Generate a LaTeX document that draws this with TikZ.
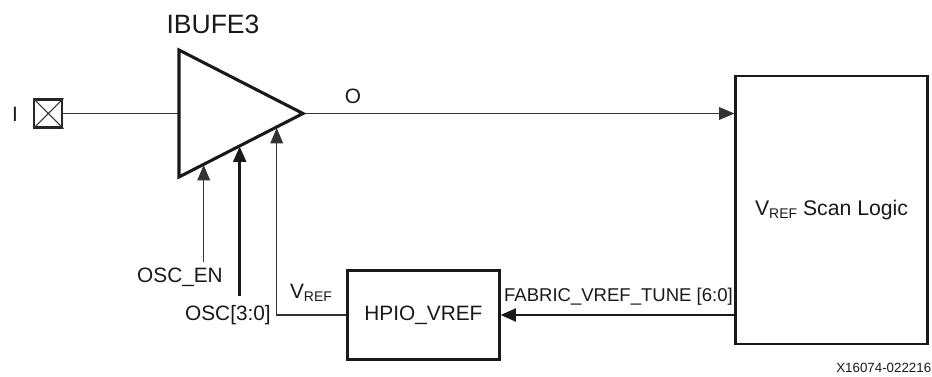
\documentclass[tikz,border=0pt]{standalone}
\usepackage{fontspec}
\setmainfont{Liberation Sans}
\usetikzlibrary{arrows.meta}
\newcommand{\vrefsub}{V\raisebox{-.3ex}{\fontsize{10.5}{11}\selectfont REF}}
\begin{document}
\begin{tikzpicture}[x=.75pt, y=-.75pt, >={Triangle[length=11.5pt,width=9.5pt]},
  wire/.style={line width=.8pt, black!80},
  bus/.style={line width=2.2pt, black!90},
  blk/.style={draw, line width=2.2pt, black!90, text=black, inner sep=0pt},
  lbl/.style={inner sep=0pt, text=black!90, font=\fontsize{15.6}{18}\selectfont}]
\useasboundingbox (0,0) rectangle (932,377);
\fill[white] (0,0) rectangle (932,377);
% blocks
\node[blk, lbl, minimum width=143.4pt, minimum height=201pt, font=\fontsize{15.9}{18}\selectfont] (scan) at (831.5,210) {\raisebox{-2pt}{\vrefsub{} Scan Logic}};
\node[blk, lbl, minimum width=113.5pt, minimum height=66.2pt] (hpio) at (423.4,315) {HPIO\_VREF};
\node[draw, line width=1.6pt, black!85, minimum size=21pt, inner sep=0pt] (pad) at (48.4,113.5) {};
\draw[wire] (pad.north west)--(pad.south east) (pad.north east)--(pad.south west);
% buffer
\coordinate (tl) at (179,50); \coordinate (bl) at (179,177); \coordinate (tip) at (303,113.5);
\coordinate (inp) at (179,113.5);
\coordinate (enin) at (203.7,165); \coordinate (oscin) at (239.7,146.5); \coordinate (refin) at (276.7,128);
% labels
\node[lbl, font=\fontsize{19.9}{22}\selectfont] (title) at (213,24.5) {IBUFE3};
\node[lbl] (ilbl) at (15,114) {I};
\node[lbl] (olbl) at (353,96) {O};
\node[lbl] (oscen) at (180,277.5) {OSC\_EN};
\node[lbl, anchor=east] (osc) at (271,315) {OSC[3:0]};
\node[lbl] (vreflbl) at (311,293) {\vrefsub};
\node[lbl, anchor=east, font=\fontsize{13.9}{16}\selectfont] (fabric) at (733,297) {FABRIC\_VREF\_TUNE [6:0]};
\node[lbl, anchor=east, font=\fontsize{10}{12}\selectfont] (partno) at (931.5,368) {X16074-022216};
% wires
\draw[wire] (pad) ++(14.5,0) -- (inp);
\draw[wire, ->] (tip) -- (scan.west |- tip);
\draw[wire, ->] (enin |- oscen.north) ++(0,-6) -- (enin);
\draw[bus, ->] (oscin |- osc.north) ++(0,-9) -- (oscin);
\draw[wire, ->] (hpio.west) -- (refin |- hpio.west) -- (refin);
\draw[bus, ->] (scan.west |- hpio.east) -- (hpio.east);
\draw[line width=2.3pt, black!90, line join=miter, fill=white] (tl) -- (tip) -- (bl) -- cycle;
\end{tikzpicture}
\end{document}
